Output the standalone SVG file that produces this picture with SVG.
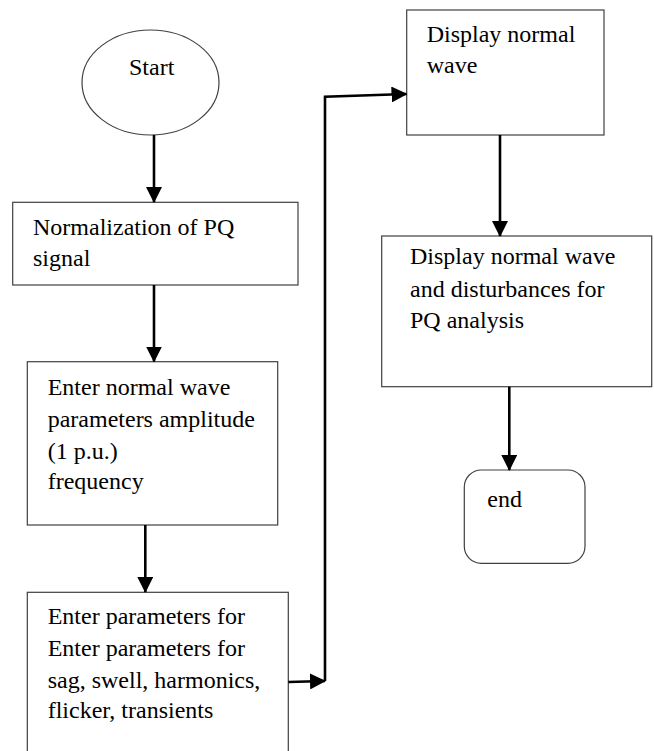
<svg xmlns="http://www.w3.org/2000/svg" width="654" height="751" viewBox="0 0 654 751">
<style>
.box{fill:#fff;stroke:#404040;stroke-width:1.2}
.t{font-size:24px;fill:#000}
.c{fill:none;stroke:#000;stroke-width:2.6}
</style>
<defs>
<marker id="ah" markerUnits="userSpaceOnUse" markerWidth="16" markerHeight="16" refX="15" refY="8" orient="auto" viewBox="0 0 16 16">
<path d="M0,0 L16,8 L0,16 Z" fill="#000"/>
</marker>
</defs>
<rect width="654" height="751" fill="#fff"/>
<g font-family="Liberation Serif, Times New Roman, serif">
<g id="start">
<ellipse class="box" cx="150.5" cy="82.5" rx="68.5" ry="52.5"/>
<text class="t" x="129" y="75">Start</text>
</g>
<g id="normalize">
<rect class="box" x="12.7" y="202.3" width="285.3" height="82.7"/>
<text class="t" x="33" y="235">Normalization of PQ</text>
<text class="t" x="33" y="266">signal</text>
</g>
<g id="normal-params">
<rect class="box" x="27.3" y="361.7" width="250.4" height="163.3"/>
<text class="t" x="47.7" y="394.5">Enter normal wave</text>
<text class="t" x="47.7" y="426.5">parameters amplitude</text>
<text class="t" x="47.7" y="458.5">(1 p.u.)</text>
<text class="t" x="47.7" y="488.5">frequency</text>
</g>
<g id="disturb-params">
<rect class="box" x="27.3" y="592.3" width="261" height="170"/>
<text class="t" x="47.7" y="624.3">Enter parameters for</text>
<text class="t" x="47.7" y="656">Enter parameters for</text>
<text class="t" x="47.7" y="687.7">sag, swell, harmonics,</text>
<text class="t" x="47.7" y="717.7">flicker, transients</text>
</g>
<g id="display-normal">
<rect class="box" x="406.7" y="10" width="197.3" height="125"/>
<text class="t" x="426.7" y="42.3">Display normal</text>
<text class="t" x="426.7" y="73.3">wave</text>
</g>
<g id="display-all">
<rect class="box" x="381.7" y="236" width="270" height="150.7"/>
<text class="t" x="410" y="264.3">Display normal wave</text>
<text class="t" x="410" y="297">and disturbances for</text>
<text class="t" x="410" y="328.3">PQ analysis</text>
</g>
<g id="end">
<rect class="box" x="464.3" y="470" width="120.7" height="93.3" rx="17" ry="17"/>
<text class="t" x="487.3" y="506.7">end</text>
</g>
</g>
<g id="connectors">
<line class="c" x1="154" y1="135" x2="154" y2="202" marker-end="url(#ah)"/>
<line class="c" x1="154" y1="285" x2="154" y2="361.5" marker-end="url(#ah)"/>
<line class="c" x1="145.3" y1="525" x2="145.3" y2="592" marker-end="url(#ah)"/>
<line class="c" x1="288.3" y1="682" x2="325" y2="681" marker-end="url(#ah)"/>
<polyline class="c" points="325,681 325,96.8 406.5,94" marker-end="url(#ah)"/>
<line class="c" x1="500" y1="135" x2="500" y2="236" marker-end="url(#ah)"/>
<line class="c" x1="509.3" y1="386.7" x2="509.3" y2="470" marker-end="url(#ah)"/>
</g>
</svg>
